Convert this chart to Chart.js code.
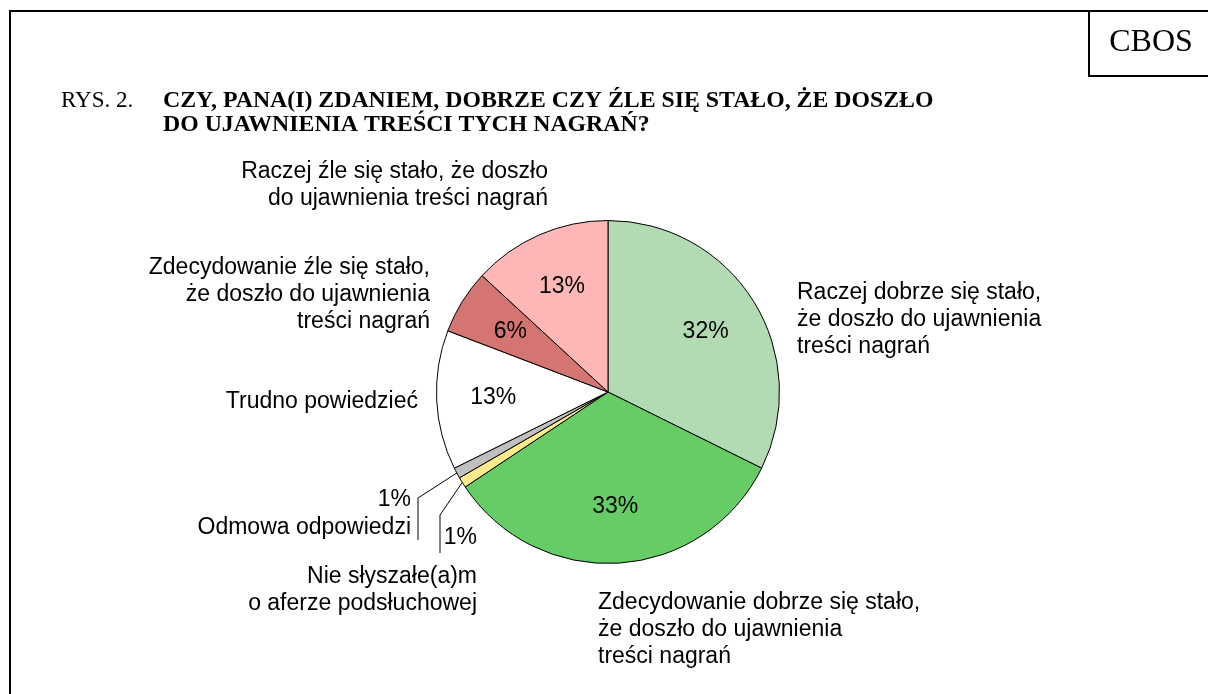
<!DOCTYPE html>
<html lang="pl">
<head>
    <meta charset="UTF-8">
    <title>CBOS - Rys. 2</title>
    <script src="https://cdn.jsdelivr.net/npm/chart.js"></script>
    <style>
        body {
            margin: 0;
            background-color: #fff;
        }
        canvas {
            display: block;
        }
    </style>
</head>
<body>
    <canvas id="pieChart" width="1208" height="694"></canvas>

    <script>
        // Slices, clockwise from 12 o'clock
        const categories = [
            ['Raczej dobrze się stało,', 'że doszło do ujawnienia', 'treści nagrań'],
            ['Zdecydowanie dobrze się stało,', 'że doszło do ujawnienia', 'treści nagrań'],
            ['Nie słyszałe(a)m', 'o aferze podsłuchowej'],
            ['Odmowa odpowiedzi'],
            ['Trudno powiedzieć'],
            ['Zdecydowanie źle się stało,', 'że doszło do ujawnienia', 'treści nagrań'],
            ['Raczej źle się stało, że doszło', 'do ujawnienia treści nagrań']
        ];
        const values = [32, 33, 1, 1, 13, 6, 13];
        const sliceColors = ['#b3dbb3', '#66cc66', '#ffeb8c', '#c0c0c0', '#ffffff', '#d47572', '#ffb6b6'];

        const titleLines = [
            'CZY, PANA(I) ZDANIEM, DOBRZE CZY ŹLE SIĘ STAŁO, ŻE DOSZŁO',
            'DO UJAWNIENIA TREŚCI TYCH NAGRAŃ?'
        ];

        // where the category names go, relative to the pie centre
        // inside: true -> percentage drawn inside the slice
        const labelLayout = [
            { inside: true, dx: 189, dy: -99, align: 'left' },
            { inside: true, dx: -10, dy: 211, align: 'left' },
            { inside: false, dx: -131, dy: 185, align: 'right', pct: [-131, 146], elbow: [-168, 123, 161] },
            { inside: false, dx: -197, dy: 136, align: 'right', pct: [-197, 108], elbow: [-190, 106, 148] },
            { inside: true, dx: -190, dy: 10, align: 'right' },
            { inside: true, dx: -178, dy: -124, align: 'right' },
            { inside: true, dx: -60, dy: -220, align: 'right' }
        ];

        const LABEL_FONT = '23px "Liberation Sans", Arial, sans-serif';
        const LINE_H = 27;

        const decorPlugin = {
            id: 'decor',
            afterDraw(chart) {
                const ctx = chart.ctx;
                const meta = chart.getDatasetMeta(0);
                ctx.save();

                // frame + CBOS box
                ctx.strokeStyle = '#000';
                ctx.lineWidth = 2;
                ctx.beginPath();
                ctx.moveTo(10, 694);
                ctx.lineTo(10, 11);
                ctx.lineTo(1208, 11);
                ctx.moveTo(1089, 11);
                ctx.lineTo(1089, 76);
                ctx.lineTo(1208, 76);
                ctx.stroke();

                ctx.fillStyle = '#000';
                ctx.textBaseline = 'middle';
                ctx.textAlign = 'center';
                ctx.font = '32px "Liberation Serif", "Times New Roman", serif';
                ctx.fillText('CBOS', 1151, 43);

                // title
                ctx.textAlign = 'left';
                ctx.font = '23px "Liberation Serif", "Times New Roman", serif';
                ctx.fillText('RYS. 2.', 61, 101);
                ctx.font = 'bold 23.8px "Liberation Serif", "Times New Roman", serif';
                titleLines.forEach((t, i) => ctx.fillText(t, 163, 101 + i * 24));

                // labels
                ctx.font = LABEL_FONT;
                meta.data.forEach((arc, i) => {
                    const p = arc.getProps(['x', 'y', 'startAngle', 'endAngle', 'outerRadius']);
                    const mid = (p.startAngle + p.endAngle) / 2;
                    const pctText = values[i] + '%';
                    const lay = labelLayout[i];

                    if (lay.inside) {
                        const r = p.outerRadius * 0.67;
                        ctx.textAlign = 'center';
                        ctx.fillText(pctText, p.x + Math.cos(mid) * r, p.y + Math.sin(mid) * r);
                    } else {
                        // leader line from slice edge
                        const ex = p.x + Math.cos(mid) * p.outerRadius;
                        const ey = p.y + Math.sin(mid) * p.outerRadius;
                        ctx.lineWidth = 1;
                        ctx.beginPath();
                        ctx.moveTo(ex, ey);
                        ctx.lineTo(p.x + lay.elbow[0], p.y + lay.elbow[1]);
                        ctx.lineTo(p.x + lay.elbow[0], p.y + lay.elbow[2]);
                        ctx.stroke();
                        ctx.textAlign = 'right';
                        ctx.fillText(pctText, p.x + lay.pct[0], p.y + lay.pct[1]);
                    }

                    ctx.textAlign = lay.align;
                    categories[i].forEach((line, k) => {
                        ctx.fillText(line, p.x + lay.dx, p.y + lay.dy + k * LINE_H);
                    });
                });
                ctx.restore();
            }
        };

        const ctx = document.getElementById('pieChart').getContext('2d');
        new Chart(ctx, {
            type: 'pie',
            data: {
                labels: categories.map(c => c.join(' ')),
                datasets: [{
                    data: values,
                    backgroundColor: sliceColors,
                    borderColor: '#000',
                    borderWidth: 1
                }]
            },
            options: {
                responsive: false,
                animation: false,
                layout: {
                    padding: { left: 436, right: 428, top: 220, bottom: 130 }
                },
                plugins: {
                    legend: { display: false },
                    tooltip: { enabled: false }
                }
            },
            plugins: [decorPlugin]
        });
    </script>
</body>
</html>
